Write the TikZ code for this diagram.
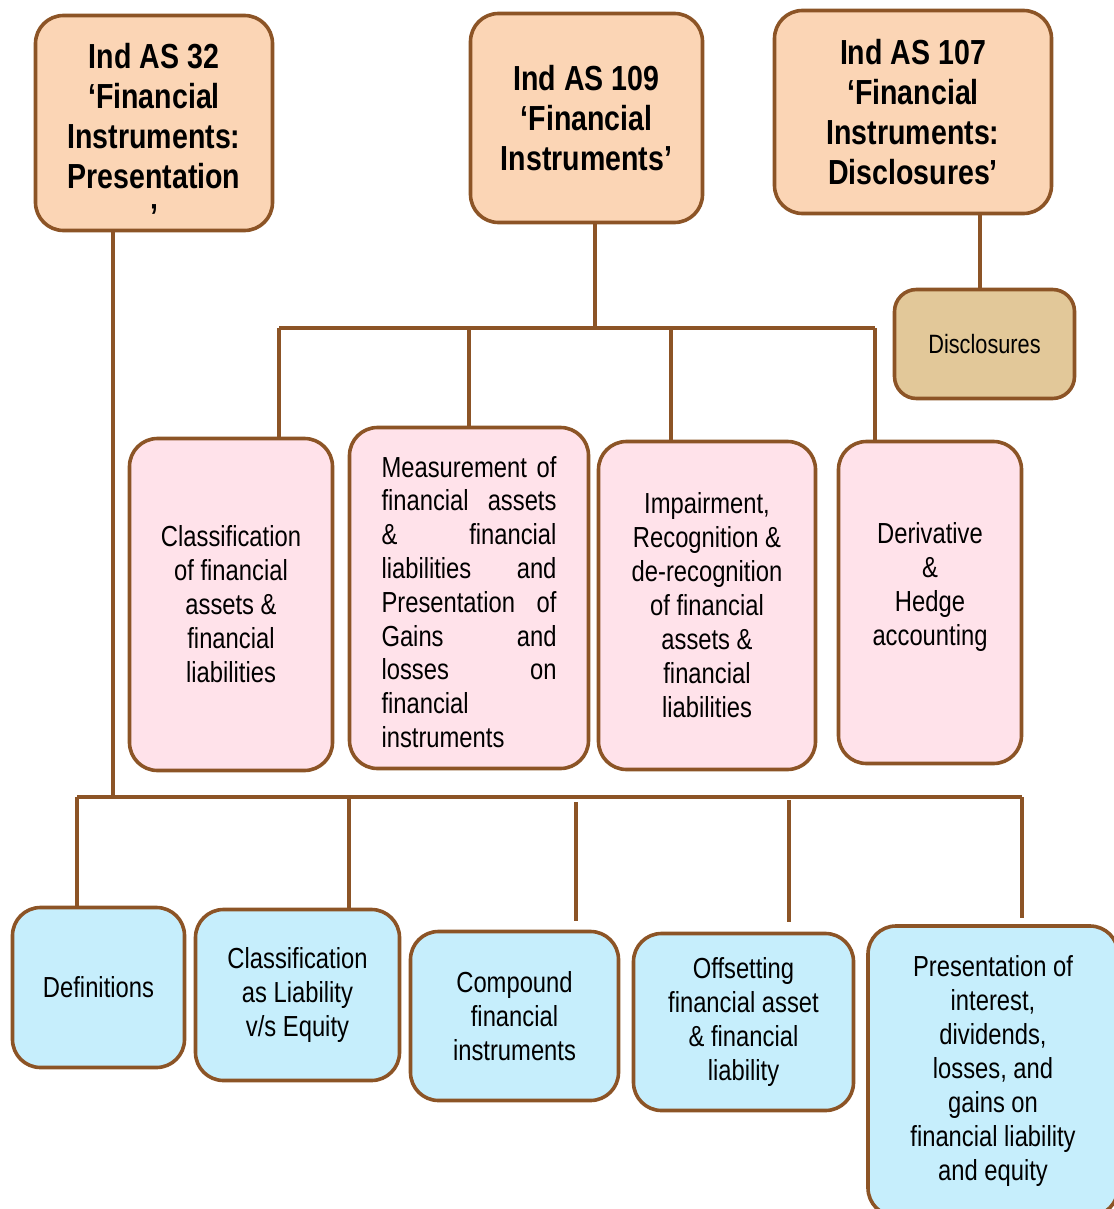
\documentclass[tikz,border=0pt]{standalone}
\usepackage{fontspec}
\setmainfont{Liberation Sans}[FakeStretch=0.82]
\definecolor{brn}{HTML}{8C5426}
\definecolor{peach}{HTML}{FBD5B5}
\definecolor{pinkc}{HTML}{FFE2EA}
\definecolor{bluec}{HTML}{C6EEFC}
\definecolor{tanc}{HTML}{E2C899}
\begin{document}
\begin{tikzpicture}[x=1pt,y=-1pt,
  box/.style={draw=brn, line width=3.6pt, rounded corners=28pt, inner sep=0pt, align=center},
  topbox/.style={box, fill=peach, font=\bfseries\fontsize{34.8}{40}\selectfont},
  midbox/.style={box, fill=pinkc, font=\fontsize{29}{34}\selectfont},
  botbox/.style={box, fill=bluec, font=\fontsize{29}{34}\selectfont},
  discbox/.style={box, fill=tanc, rounded corners=22pt, font=\fontsize{26.5}{30}\selectfont},
  txt/.style={inner sep=0pt, align=center},
  conn/.style={draw=brn, line width=3.6pt}]
\useasboundingbox (0,0) rectangle (1113,1209);

% top boxes
\node[topbox, minimum width=237pt, minimum height=215pt] (b32) at (154,123) {};
\node[txt, font=\bfseries\fontsize{34.8}{40}\selectfont] (t32) at (154,136) {Ind AS 32\\‘Financial\\Instruments:\\Presentation\\’};
\node[topbox, minimum width=232pt, minimum height=209pt] (b109) at (586.5,118) {Ind AS 109\\‘Financial\\Instruments’};
\node[topbox, minimum width=277pt, minimum height=203pt] (b107) at (913,112) {Ind AS 107\\‘Financial\\Instruments:\\Disclosures’};
\node[discbox, minimum width=180pt, minimum height=109pt] (disc) at (984.5,344) {Disclosures};

% middle boxes
\node[midbox, minimum width=203pt, minimum height=332pt] (m1) at (231,604.5) {Classification\\of financial\\assets \&\\financial\\liabilities};
\node[midbox, minimum width=239pt, minimum height=341pt] (m2) at (469,598) {};
\node[txt, align=left, font=\fontsize{29}{33.8}\selectfont] (t2) at (469,602) {%
\makebox[175pt][s]{Measurement of}\\
\makebox[175pt][l]{financial\hfill assets}\\
\makebox[175pt][l]{\&\hfill financial}\\
\makebox[175pt][l]{liabilities\hfill and}\\
\makebox[175pt][l]{Presentation\hfill of}\\
\makebox[175pt][l]{Gains\hfill and}\\
\makebox[175pt][l]{losses\hfill on}\\
\makebox[175pt][l]{financial}\\
\makebox[175pt][l]{instruments}};
\node[midbox, minimum width=217pt, minimum height=328pt] (m3) at (707,605.5) {Impairment,\\Recognition \&\\de-recognition\\of financial\\assets \&\\financial\\liabilities};
\node[midbox, minimum width=183pt, minimum height=322pt] (m4) at (930,602.5) {};
\node[txt, font=\fontsize{29}{34}\selectfont] (t4) at (930,587) {Derivative\\\&\\Hedge\\accounting};

% bottom boxes
\node[botbox, minimum width=172pt, minimum height=160pt] (def) at (98.5,987.5) {Definitions};
\node[botbox, minimum width=204pt, minimum height=171pt] (cl) at (297.5,995) {Classification\\as Liability\\v/s Equity};
\node[botbox, minimum width=208pt, minimum height=169pt] (comp) at (514.5,1016) {Compound\\financial\\instruments};
\node[botbox, minimum width=220pt, minimum height=177pt] (off) at (743.5,1022) {Offsetting\\financial asset\\\& financial\\liability};
\node[botbox, minimum width=250pt, minimum height=290pt] (pres) at (993,1071) {Presentation of\\interest,\\dividends,\\losses, and\\gains on\\financial liability\\and equity};

% connectors: Ind AS 107
\draw[conn] (disc.north -| 980,0) -- (b107.south -| 980,0);

% connectors: Ind AS 109
\coordinate (j1) at (595,328);
\coordinate (h1l) at (279,328);
\coordinate (h1r) at (875,328);
\coordinate (d2) at (469,328);
\coordinate (d3) at (671,328);
\draw[conn] (b109.south -| j1) -- (j1);
\draw[conn] (h1l) -- (h1r);
\draw[conn] (h1l) -- (h1l |- m1.north);
\draw[conn] (d2) -- (d2 |- m2.north);
\draw[conn] (d3) -- (d3 |- m3.north);
\draw[conn] (h1r) -- (h1r |- m4.north);

% connectors: Ind AS 32
\coordinate (j2) at (113,797);
\coordinate (h2l) at (77,797);
\coordinate (h2r) at (1022,797);
\coordinate (e2) at (349,797);
\coordinate (e3) at (576,802);
\coordinate (e4) at (789,800);
\draw[conn] (b32.south -| j2) -- (j2);
\draw[conn] (h2l) -- (h2r);
\draw[conn] (h2l) -- (h2l |- def.north);
\draw[conn] (e2) -- (e2 |- cl.north);
\draw[conn] (e3) -- ([yshift=9pt]e3 |- comp.north);
\draw[conn] (e4) -- ([yshift=10pt]e4 |- off.north);
\draw[conn] (h2r) -- ([yshift=6pt]h2r |- pres.north);
\end{tikzpicture}
\end{document}
